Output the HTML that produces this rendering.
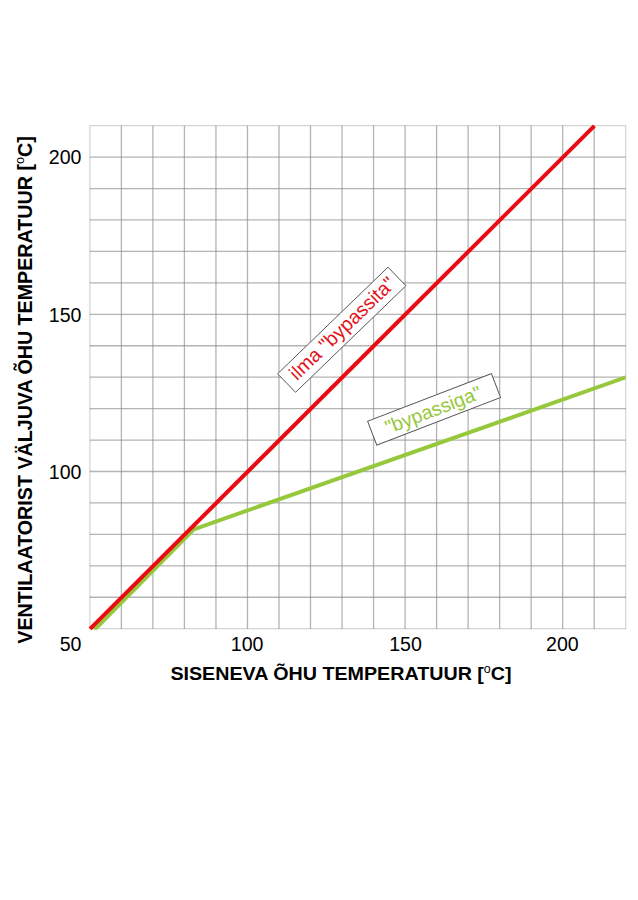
<!DOCTYPE html>
<html><head><meta charset="utf-8"><style>
html,body{margin:0;padding:0;background:#fff;}
svg{display:block;}
text{font-family:"Liberation Sans",sans-serif;}
</style></head><body>
<svg width="638" height="900" viewBox="0 0 638 900">
<defs><clipPath id="plot"><rect x="86.87" y="122.65" width="538.84" height="507.04"/></clipPath></defs>
<rect width="638" height="900" fill="#fff"/>
<g stroke="#8e8e8e" stroke-opacity="0.667" stroke-width="1.3">
<line x1="121.39" y1="125.65" x2="121.39" y2="628.69"/>
<line x1="152.91" y1="125.65" x2="152.91" y2="628.69"/>
<line x1="184.43" y1="125.65" x2="184.43" y2="628.69"/>
<line x1="215.95" y1="125.65" x2="215.95" y2="628.69"/>
<line x1="247.47" y1="125.65" x2="247.47" y2="628.69"/>
<line x1="278.99" y1="125.65" x2="278.99" y2="628.69"/>
<line x1="310.51" y1="125.65" x2="310.51" y2="628.69"/>
<line x1="342.03" y1="125.65" x2="342.03" y2="628.69"/>
<line x1="373.55" y1="125.65" x2="373.55" y2="628.69"/>
<line x1="405.07" y1="125.65" x2="405.07" y2="628.69"/>
<line x1="436.59" y1="125.65" x2="436.59" y2="628.69"/>
<line x1="468.11" y1="125.65" x2="468.11" y2="628.69"/>
<line x1="499.63" y1="125.65" x2="499.63" y2="628.69"/>
<line x1="531.15" y1="125.65" x2="531.15" y2="628.69"/>
<line x1="562.67" y1="125.65" x2="562.67" y2="628.69"/>
<line x1="594.19" y1="125.65" x2="594.19" y2="628.69"/>
<line x1="89.87" y1="157.09" x2="625.71" y2="157.09"/>
<line x1="89.87" y1="188.53" x2="625.71" y2="188.53"/>
<line x1="89.87" y1="219.97" x2="625.71" y2="219.97"/>
<line x1="89.87" y1="251.41" x2="625.71" y2="251.41"/>
<line x1="89.87" y1="282.85" x2="625.71" y2="282.85"/>
<line x1="89.87" y1="314.29" x2="625.71" y2="314.29"/>
<line x1="89.87" y1="345.73" x2="625.71" y2="345.73"/>
<line x1="89.87" y1="377.17" x2="625.71" y2="377.17"/>
<line x1="89.87" y1="408.61" x2="625.71" y2="408.61"/>
<line x1="89.87" y1="440.05" x2="625.71" y2="440.05"/>
<line x1="89.87" y1="471.49" x2="625.71" y2="471.49"/>
<line x1="89.87" y1="502.93" x2="625.71" y2="502.93"/>
<line x1="89.87" y1="534.37" x2="625.71" y2="534.37"/>
<line x1="89.87" y1="565.81" x2="625.71" y2="565.81"/>
<line x1="89.87" y1="597.25" x2="625.71" y2="597.25"/>
</g>
<rect x="89.87" y="125.65" width="535.84" height="503.04" fill="none" stroke="#000" stroke-opacity="0.2" stroke-width="1.05"/>
<g clip-path="url(#plot)">
<polyline points="94.38,629.89 193.80,529.40 625.71,377.32" fill="none" stroke="#96c83c" stroke-width="4" stroke-linejoin="round"/>
</g>
<line x1="90.07" y1="628.89" x2="594.39" y2="125.85" stroke="#ec0a12" stroke-width="4"/>
<g transform="translate(341.76,329.76) rotate(-44)">
<rect x="-76.7" y="-12.9" width="153.4" height="25.8" fill="#fff" stroke="#505050" stroke-width="0.9"/>
<text x="1.3" y="5.9" text-anchor="middle" font-size="19.65" fill="#e3121c">ilma "bypassita"</text>
</g>
<g transform="translate(434.1,409.4) rotate(-21)">
<rect x="-66.3" y="-12.8" width="132.6" height="25.6" fill="#fff" stroke="#505050" stroke-width="0.9"/>
<text x="-1" y="6.8" text-anchor="middle" font-size="19.5" fill="#96c83c">"bypassiga"</text>
</g>
<g font-size="19.6" fill="#000">
<text x="81.5" y="163.8" text-anchor="end">200</text>
<text x="81.5" y="321.8" text-anchor="end">150</text>
<text x="81.5" y="478.5" text-anchor="end">100</text>
<text x="81.5" y="650.9" text-anchor="end">50</text>
<text x="247.17" y="650.9" text-anchor="middle">100</text>
<text x="405.57" y="650.9" text-anchor="middle">150</text>
<text x="562.37" y="650.9" text-anchor="middle">200</text>
</g>
<text x="170.4" y="680" font-size="19" font-weight="bold" fill="#000" textLength="341.2" lengthAdjust="spacingAndGlyphs">SISENEVA ÕHU TEMPERATUUR [<tspan font-size="12" font-weight="normal" dy="-7">o</tspan><tspan dy="7">C]</tspan></text>
<text transform="translate(31.5,643.7) rotate(-90)" x="0" y="0" font-size="19.5" font-weight="bold" fill="#000" textLength="507.4" lengthAdjust="spacingAndGlyphs">VENTILAATORIST VÄLJUVA ÕHU TEMPERATUUR [<tspan font-size="12.5" font-weight="normal" dy="-7.5">o</tspan><tspan dy="7.5">C]</tspan></text>
</svg>
</body></html>
